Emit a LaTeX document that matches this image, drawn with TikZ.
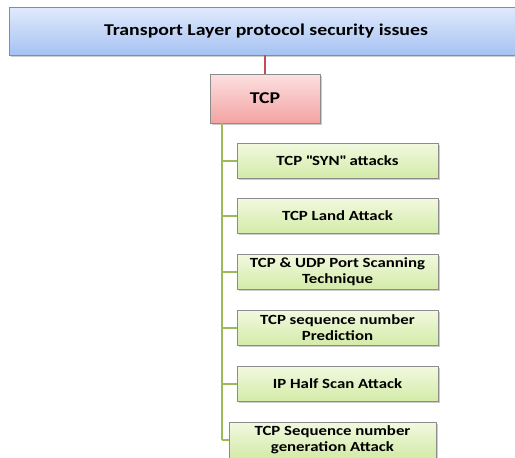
\documentclass[tikz,border=0pt]{standalone}
\usepackage{fontspec}
\setmainfont[FakeStretch=1.2]{Carlito}
\usetikzlibrary{shadows}
\definecolor{topA}{HTML}{E0EAFC}
\definecolor{topB}{HTML}{A6C2F2}
\definecolor{tcpA}{HTML}{FCE0E0}
\definecolor{tcpB}{HTML}{F4A3A3}
\definecolor{leafA}{HTML}{F2F9E0}
\definecolor{leafB}{HTML}{D3EBA8}
\definecolor{redline}{HTML}{C0504D}
\definecolor{greenline}{HTML}{9BBB59}
\tikzset{
  box/.style={draw=black!45, line width=0.6pt, align=center, font=\bfseries,
    inner sep=2pt, drop shadow={shadow xshift=1.5pt, shadow yshift=-1.5pt, opacity=0.4}},
  topbox/.style={box, top color=topA, bottom color=topB, minimum width=514pt, minimum height=48pt, font=\bfseries\fontsize{16.5}{18}\selectfont},
  tcpbox/.style={box, top color=tcpA, bottom color=tcpB, minimum width=110pt, minimum height=49pt, font=\bfseries\fontsize{16.5}{18}\selectfont},
  leaf/.style={box, top color=leafA, bottom color=leafB, minimum width=201pt, minimum height=35pt, font=\bfseries\fontsize{14}{16}\selectfont},
}
\begin{document}
\begin{tikzpicture}[x=1pt,y=-1pt]
\useasboundingbox (0,0) rectangle (515,458);
\node[topbox] (issues) at (266,31) {Transport Layer protocol security issues};
\node[tcpbox] (tcp) at (265,98.5) {TCP};
\draw[redline, line width=2pt] (issues.south -| tcp.north) -- (tcp.north);
% attacks under TCP
\node[leaf] (syn) at (337.5,160.5) {TCP \textquotedbl SYN\textquotedbl{} attacks};
\node[leaf] (land) at (337.5,215.5) {TCP Land Attack};
\node[leaf] (scan) at (337.5,271.5) {TCP \& UDP Port Scanning\\Technique};
\node[leaf] (predict) at (337.5,327.5) {TCP sequence number\\Prediction};
\node[leaf] (halfscan) at (337.5,383.5) {IP Half Scan Attack};
\node[leaf, minimum width=207pt, minimum height=36pt] (seqgen) at (332.5,440) {TCP Sequence number\\generation Attack};
\coordinate (trunk) at (222,0);
\draw[greenline, line width=2pt] (tcp.south -| trunk) -- (seqgen.west -| trunk);
\foreach \n in {syn,land,scan,predict,halfscan,seqgen}
  \draw[greenline, line width=2pt] (\n.west -| trunk) -- (\n.west);
\end{tikzpicture}
\end{document}
